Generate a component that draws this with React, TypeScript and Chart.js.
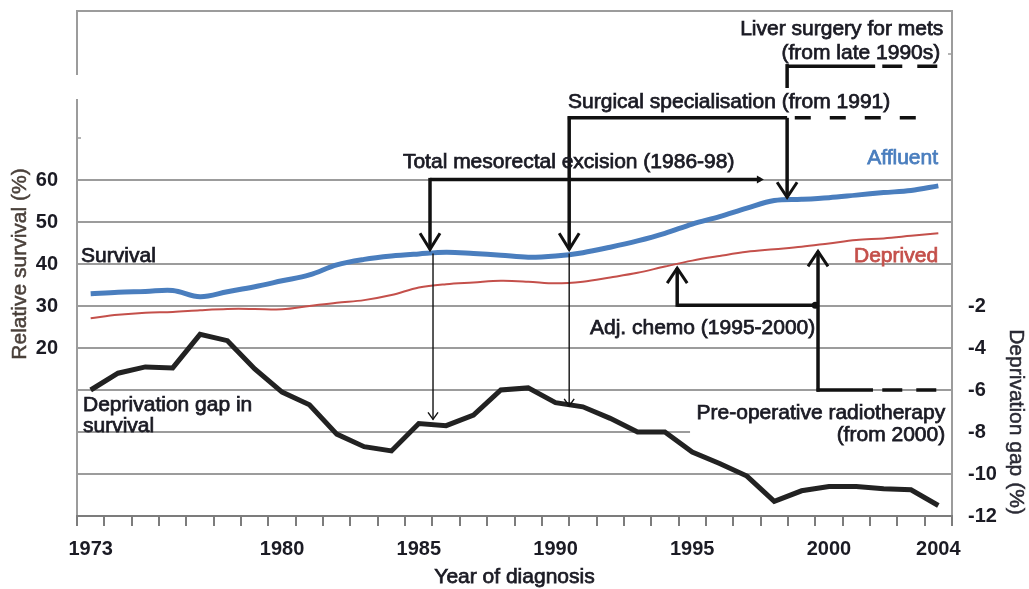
import React, { useEffect, useRef } from 'react';
import { Chart, registerables } from 'chart.js';

Chart.register(...registerables);

const years = [
  '1973', '1974', '1975', '1976', '1977', '1978', '1979', '1980', '1981', '1982', '1983',
  '1984', '1985', '1986', '1987', '1988', '1989', '1990', '1991', '1992', '1993', '1994',
  '1995', '1996', '1997', '1998', '1999', '2000', '2001', '2002', '2003', '2004',
];
const affluent = [
  32.9, 33.3, 33.45, 33.7, 32.2, 33.4, 34.6, 36.0, 37.4, 39.8, 41.1, 41.9, 42.4, 42.8, 42.5, 42.1,
  41.6, 41.9, 42.7, 44.0, 45.5, 47.3, 49.5, 51.3, 53.3, 55.1, 55.4, 55.8, 56.4, 57.0, 57.5, 58.6,
];
const deprived = [
  27.1, 27.9, 28.4, 28.6, 29.0, 29.3, 29.3, 29.2, 30.0, 30.8, 31.4, 32.6, 34.4, 35.2, 35.6, 36.0,
  35.8, 35.4, 35.8, 36.8, 37.9, 39.4, 40.8, 41.9, 42.9, 43.5, 44.1, 44.9, 45.7, 46.1, 46.7, 47.3,
];
const deprivationGap = [
  -6.0, -5.2, -4.9, -4.95, -3.35, -3.65, -5.0, -6.1, -6.7, -8.1, -8.7, -8.9, -7.6, -7.7, -7.2, -6.0,
  -5.9, -6.6, -6.8, -7.35, -8.0, -8.0, -8.95, -9.5, -10.1, -11.3, -10.8, -10.6, -10.6, -10.7, -10.75, -11.5,
];
const shownYears = ['1973', '1980', '1985', '1990', '1995', '2000', '2004'];
const leftTicks = [20, 30, 40, 50, 60];
const rightTicks = [-2, -4, -6, -8, -10, -12];
const gridValues = [60, 50, 40, 30, 20, 10, -10];

const FONT = '"Liberation Sans", Arial, sans-serif';
const TEXT = '#1b1b24';
const BLUE = '#4a7ebe';
const RED = '#c4504b';
const GRID = '#9c9c9c';

function vArrow(ctx: CanvasRenderingContext2D, x: number, tip: number, dir: number, hw: number, len: number) {
  ctx.beginPath();
  ctx.moveTo(x - hw, tip - dir * len);
  ctx.lineTo(x, tip);
  ctx.lineTo(x + hw, tip - dir * len);
  ctx.stroke();
}

const framePlugin = {
  id: 'frame',
  beforeDatasetsDraw(chart: any) {
    const { ctx, chartArea: ca, scales } = chart;
    const X = (i: number) => scales.x.getPixelForValue(i);
    const Y = (v: number) => scales.y.getPixelForValue(v);
    ctx.save();
    ctx.strokeStyle = GRID;
    ctx.lineWidth = 2;
    ctx.beginPath();
    ctx.moveTo(ca.left, Y(0));
    ctx.lineTo(X(21.92), Y(0));
    ctx.moveTo(ca.left - 1, ca.top - 1);
    ctx.lineTo(ca.right + 1, ca.top - 1);
    ctx.moveTo(ca.right, ca.top - 1);
    ctx.lineTo(ca.right, ca.bottom + 1);
    ctx.moveTo(ca.left, ca.top - 1);
    ctx.lineTo(ca.left, Y(85));
    ctx.moveTo(ca.left, Y(79.3));
    ctx.lineTo(ca.left, ca.bottom + 1);
    ctx.stroke();
    ctx.lineWidth = 1.5;
    ctx.beginPath();
    ctx.moveTo(ca.left, Y(70));
    ctx.lineTo(ca.left + 4, Y(70));
    ctx.moveTo(ca.right, Y(90));
    ctx.lineTo(ca.right - 4, Y(90));
    ctx.stroke();
    ctx.restore();
  },
  afterDraw(chart: any) {
    const { ctx, chartArea: ca, scales } = chart;
    const X = (i: number) => scales.x.getPixelForValue(i);
    const Y = (v: number) => scales.y.getPixelForValue(v);
    ctx.save();

    // bottom axis and tick marks at every year boundary
    const bottom = Math.round(Y(-20));
    ctx.fillStyle = '#7c7c7c';
    ctx.fillRect(Math.round(X(-0.5)) - 1, bottom - 1, Math.round(X(31.5) - X(-0.5)) + 2, 2);
    for (let i = 0; i <= years.length; i++) {
      const x = Math.round(X(i - 0.5));
      ctx.fillRect(x - 1, bottom, 2, 10);
    }

    ctx.strokeStyle = '#111';
    ctx.fillStyle = '#111';
    ctx.lineCap = 'butt';
    ctx.lineJoin = 'miter';

    const line = (x1: number, y1: number, x2: number, y2: number, w = 3.5, dash: number[] = []) => {
      ctx.lineWidth = w;
      ctx.setLineDash(dash);
      ctx.beginPath();
      ctx.moveTo(X(x1), Y(y1));
      ctx.lineTo(X(x2), Y(y2));
      ctx.stroke();
      ctx.setLineDash([]);
    };

    line(25.47, 87.1, 28.69, 87.1);
    line(28.95, 87.1, 31.1, 87.1, 3.5, [20, 15]);
    line(25.47, 87.6, 25.47, 81.9);
    line(25.47, 74.8, 25.47, 55.9);
    ctx.lineWidth = 3;
    vArrow(ctx, X(25.47), Y(55.9), 1, 10, 15);

    line(17.45, 74.8, 25.47, 74.8);
    line(25.75, 74.8, 30.8, 74.8, 3.5, [16, 19]);
    line(17.5, 75.2, 17.5, 43.5);
    ctx.lineWidth = 3;
    vArrow(ctx, X(17.5), Y(43.5), 1, 10, 16);

    line(12.41, 60.1, 24.5, 60.1);
    line(12.41, 60.5, 12.41, 43.5);
    ctx.lineWidth = 3;
    vArrow(ctx, X(12.41), Y(43.5), 1, 10, 16);
    ctx.beginPath();
    ctx.moveTo(X(24.62), Y(60.1));
    ctx.lineTo(X(24.62) - 7, Y(60.1) - 4);
    ctx.lineTo(X(24.62) - 7, Y(60.1) + 4);
    ctx.closePath();
    ctx.fill();

    line(12.52, 42.5, 12.52, 3.0, 1.4);
    ctx.lineWidth = 1.4;
    vArrow(ctx, X(12.52), Y(3.0), 1, 5, 7);
    line(17.5, 42.5, 17.5, 6.2, 1.4);
    ctx.lineWidth = 1.4;
    vArrow(ctx, X(17.5), Y(6.2), 1, 5, 7);

    line(21.45, 30.2, 26.55, 30.2);
    line(21.45, 29.8, 21.45, 39.0);
    ctx.lineWidth = 3;
    vArrow(ctx, X(21.45), Y(39.0), -1, 10, 15);
    ctx.beginPath();
    ctx.arc(X(26.5), Y(30.2), 3.5, 0, Math.PI * 2);
    ctx.fill();

    line(26.6, 9.6, 26.6, 43.0);
    ctx.lineWidth = 3;
    vArrow(ctx, X(26.6), Y(43.0), -1, 10, 15);
    line(26.55, 10, 28.61, 10);
    line(28.95, 10, 31.1, 10, 3.5, [20, 14]);

    ctx.font = `21px ${FONT}`;
    ctx.textBaseline = 'middle';
    ctx.lineWidth = 0.75;
    const text = (s: string, x: number, v: number, align: CanvasTextAlign, color = TEXT) => {
      ctx.fillStyle = color;
      ctx.strokeStyle = color;
      ctx.textAlign = align;
      ctx.fillText(s, X(x), Y(v));
      ctx.strokeText(s, X(x), Y(v));
    };
    text('Liver surgery for mets', 31.18, 96.0, 'right');
    text('(from late 1990s)', 31.07, 90.2, 'right');
    text('Surgical specialisation (from 1991)', 17.46, 78.6, 'left');
    text('Total mesorectal excision (1986-98)', 11.42, 64.3, 'left');
    text('Affluent', 30.99, 65.2, 'right', BLUE);
    text('Deprived', 30.99, 41.9, 'right', RED);
    text('Survival', -0.35, 41.9, 'left');
    text('Deprivation gap in', -0.28, 6.4, 'left');
    text('survival', -0.28, 1.4, 'left');
    text('Adj. chemo (1995-2000)', 18.26, 24.8, 'left');
    text('Pre-operative radiotherapy', 31.25, 4.5, 'right');
    text('(from 2000)', 31.25, -0.7, 'right');

    ctx.lineWidth = 0.5;
    ctx.fillStyle = '#4a403a';
    ctx.strokeStyle = '#4a403a';
    ctx.textAlign = 'center';
    ctx.save();
    ctx.translate(20, 264);
    ctx.rotate(-Math.PI / 2);
    ctx.fillText('Relative survival (%)', 0, 0);
    ctx.strokeText('Relative survival (%)', 0, 0);
    ctx.restore();
    ctx.fillStyle = '#2a2a34';
    ctx.strokeStyle = '#2a2a34';
    ctx.save();
    ctx.translate(1016, 422);
    ctx.rotate(Math.PI / 2);
    ctx.fillText('Deprivation gap (%)', 0, 0);
    ctx.strokeText('Deprivation gap (%)', 0, 0);
    ctx.restore();
    ctx.lineWidth = 0.75;
    ctx.fillStyle = TEXT;
    ctx.strokeStyle = TEXT;
    ctx.fillText('Year of diagnosis', (X(-0.5) + X(31.5)) / 2, 577);
    ctx.strokeText('Year of diagnosis', (X(-0.5) + X(31.5)) / 2, 577);
    ctx.restore();
  },
};

export default function App() {
  const ref = useRef<HTMLCanvasElement | null>(null);
  useEffect(() => {
    if (!ref.current) return;
    const chart = new Chart(ref.current, {
      type: 'line',
      data: {
        labels: years,
        datasets: [
          { label: 'Affluent', data: affluent, borderColor: BLUE, borderWidth: 5, pointRadius: 0, tension: 0.35, yAxisID: 'y' },
          { label: 'Deprived', data: deprived, borderColor: RED, borderWidth: 2, pointRadius: 0, tension: 0.35, yAxisID: 'y' },
          { label: 'Deprivation gap', data: deprivationGap, borderColor: '#222222', borderWidth: 5, pointRadius: 0, tension: 0, yAxisID: 'y2' },
        ],
      },
      options: {
        responsive: false,
        animation: false,
        devicePixelRatio: 1,
        layout: { padding: { top: 12, left: 0, right: 0, bottom: 0 } },
        plugins: { legend: { display: false }, tooltip: { enabled: false }, title: { display: false } },
        scales: {
          x: {
            type: 'category',
            offset: true,
            grid: { display: false, drawTicks: false },
            border: { display: false },
            ticks: {
              autoSkip: false,
              maxRotation: 0,
              minRotation: 0,
              padding: 21,
              color: TEXT,
              font: { family: FONT, size: 20, weight: 'bold' },
              callback: (_v: any, i: number) => (shownYears.includes(years[i]) ? years[i] : ''),
            },
            afterFit: (s: any) => {
              s.height = 73;
              s.paddingLeft = 0;
              s.paddingRight = 0;
            },
          },
          y: {
            position: 'left',
            min: -20,
            max: 100,
            grid: {
              drawTicks: false,
              lineWidth: 2,
              color: (c: any) => (gridValues.includes(c.tick.value) ? GRID : 'rgba(0,0,0,0)'),
            },
            border: { display: false },
            ticks: {
              stepSize: 10,
              padding: 19,
              color: TEXT,
              font: { family: FONT, size: 20, weight: 'bold' },
              callback: (v: any) => (leftTicks.includes(v) ? String(v) : ''),
            },
            afterFit: (s: any) => {
              s.width = 77;
              s.paddingTop = 0;
              s.paddingBottom = 0;
            },
          },
          y2: {
            position: 'right',
            min: -12,
            max: 12,
            grid: { display: false, drawTicks: false },
            border: { display: false },
            ticks: {
              stepSize: 2,
              padding: 16,
              color: TEXT,
              font: { family: FONT, size: 20, weight: 'bold' },
              callback: (v: any) => (rightTicks.includes(v) ? String(v) : ''),
            },
            afterFit: (s: any) => {
              s.width = 77;
              s.paddingTop = 0;
              s.paddingBottom = 0;
            },
          },
        },
      },
      plugins: [framePlugin],
    });
    return () => chart.destroy();
  }, []);
  return (
    <div style={{ position: 'absolute', left: 0, top: 0, width: 1029, height: 589 }}>
      <canvas ref={ref} width={1029} height={589} />
    </div>
  );
}
